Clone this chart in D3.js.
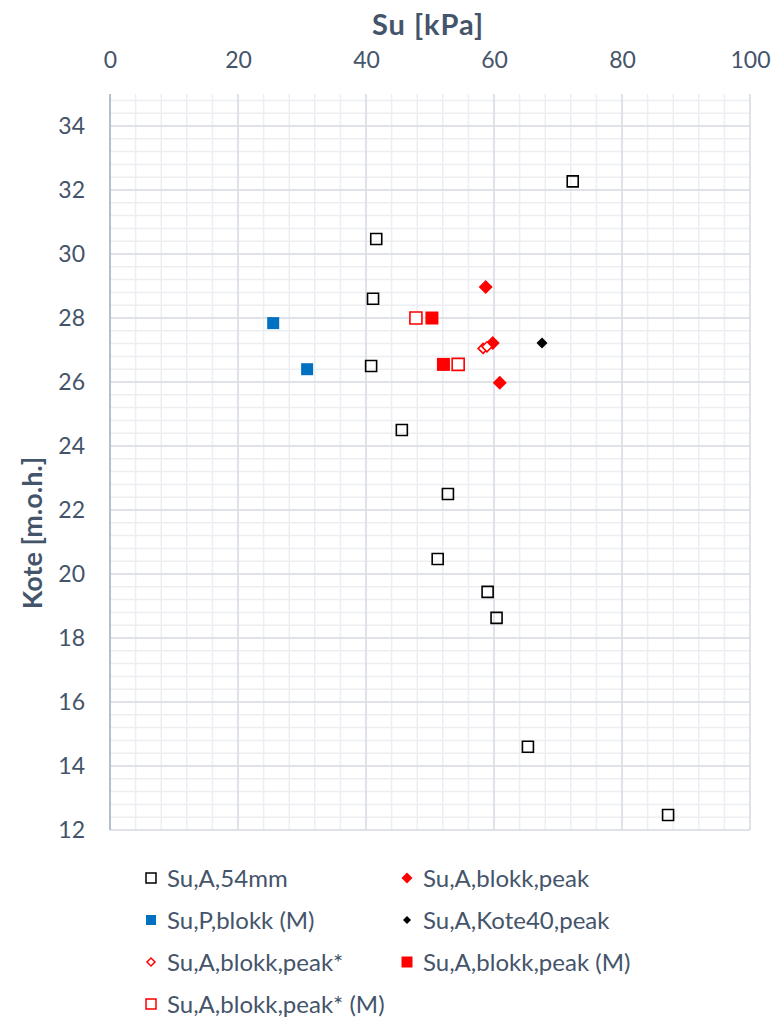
<!DOCTYPE html>
<html>
<head>
<meta charset="UTF-8">
<script src="https://cdn.jsdelivr.net/npm/d3@7"></script>
<style>
  * { margin: 0; padding: 0; }
  body { background: #fff; }
  text { font-family: Lato, "Open Sans", sans-serif; }
</style>
</head>
<body>
<div id="chart"></div>
<script>
// Su,A,54mm
var a54_su   = [72.3, 41.6, 41.1, 40.8, 45.6, 52.8, 51.2, 59.0, 60.4, 65.3, 87.2];
var a54_kote = [32.27, 30.47, 28.6, 26.5, 24.5, 22.5, 20.47, 19.44, 18.63, 14.6, 12.47];
// Su,P,blokk (M)
var pBlokk_su   = [25.5, 30.8];
var pBlokk_kote = [27.84, 26.4];
// Su,A,blokk,peak
var peak_su   = [58.7, 59.8, 60.9];
var peak_kote = [28.97, 27.22, 25.98];
// Su,A,Kote40,peak
var k40_su   = [67.5];
var k40_kote = [27.22];
// Su,A,blokk,peak*
var peakS_su   = [58.3, 58.9];
var peakS_kote = [27.05, 27.1];
// Su,A,blokk,peak (M)
var peakM_su   = [50.3, 52.1];
var peakM_kote = [28.0, 26.55];
// Su,A,blokk,peak* (M)
var peakSM_su   = [47.8, 54.4];
var peakSM_kote = [28.0, 26.55];

var xTicks = [0, 20, 40, 60, 80, 100];
var yTicks = [12, 14, 16, 18, 20, 22, 24, 26, 28, 30, 32, 34];

var series = [
  {name: "Su,A,54mm", su: a54_su, kote: a54_kote, shape: "square", fill: "none", stroke: "#000", size: 11},
  {name: "Su,A,blokk,peak", su: peak_su, kote: peak_kote, shape: "diamond", fill: "#ff0000", stroke: "none", size: 14},
  {name: "Su,P,blokk (M)", su: pBlokk_su, kote: pBlokk_kote, shape: "square", fill: "#0070c0", stroke: "none", size: 12},
  {name: "Su,A,Kote40,peak", su: k40_su, kote: k40_kote, shape: "diamond", fill: "#000", stroke: "none", size: 11},
  {name: "Su,A,blokk,peak*", su: peakS_su, kote: peakS_kote, shape: "diamond", fill: "#fff", stroke: "#ff0000", size: 10},
  {name: "Su,A,blokk,peak (M)", su: peakM_su, kote: peakM_kote, shape: "square", fill: "#ff0000", stroke: "none", size: 13},
  {name: "Su,A,blokk,peak* (M)", su: peakSM_su, kote: peakSM_kote, shape: "square", fill: "#fff", stroke: "#ff0000", size: 12}
];

var W = 774, H = 1021;
var margin = {top: 94, left: 110, right: 24, bottom: 191};
var pw = W - margin.left - margin.right, ph = H - margin.top - margin.bottom;

var svg = d3.select("#chart").append("svg").attr("width", W).attr("height", H);
var g = svg.append("g").attr("transform", "translate(" + margin.left + "," + margin.top + ")");

var x = d3.scaleLinear().domain([0, 100]).range([0, pw]);
var y = d3.scaleLinear().domain([12, 35]).range([ph, 0]);

// grid minor
g.append("g").selectAll("line").data(d3.range(0, 100.01, 4)).enter().append("line")
  .attr("x1", function(d){ return x(d); }).attr("x2", function(d){ return x(d); })
  .attr("y1", 0).attr("y2", ph)
  .attr("stroke", "#eceef2").attr("stroke-width", 1.5);
g.append("g").selectAll("line").data(d3.range(12, 35.01, 0.4)).enter().append("line")
  .attr("x1", 0).attr("x2", pw)
  .attr("y1", function(d){ return y(d); }).attr("y2", function(d){ return y(d); })
  .attr("stroke", "#eceef2").attr("stroke-width", 1.5);
// grid major
g.append("g").selectAll("line").data(xTicks).enter().append("line")
  .attr("x1", function(d){ return x(d); }).attr("x2", function(d){ return x(d); })
  .attr("y1", 0).attr("y2", ph)
  .attr("stroke", "#d9dde5").attr("stroke-width", 1.5);
g.append("g").selectAll("line").data(yTicks).enter().append("line")
  .attr("x1", 0).attr("x2", pw)
  .attr("y1", function(d){ return y(d); }).attr("y2", function(d){ return y(d); })
  .attr("stroke", "#d9dde5").attr("stroke-width", 1.5);
// left axis line
g.append("line").attr("x1", 0).attr("x2", 0).attr("y1", 0).attr("y2", ph)
  .attr("stroke", "#b4bfd0").attr("stroke-width", 2);

// axes
var xAxis = g.append("g").call(d3.axisTop(x).tickValues(xTicks).tickSize(0).tickPadding(0));
xAxis.select(".domain").remove();
xAxis.selectAll("text").attr("y", -26).attr("font-size", 23).attr("fill", "#44546a")
  .style("font-family", "Lato, sans-serif");

var yAxis = g.append("g").call(d3.axisLeft(y).tickValues(yTicks).tickSize(0).tickPadding(25));
yAxis.select(".domain").remove();
yAxis.selectAll("text").attr("font-size", 23).attr("fill", "#44546a")
  .style("font-family", "Lato, sans-serif");

svg.append("text").attr("x", 428).attr("y", 35).attr("text-anchor", "middle")
  .attr("font-size", 29).attr("font-weight", "bold").attr("letter-spacing", 1)
  .attr("fill", "#44546a").text("Su [kPa]");
svg.append("text").attr("transform", "translate(42,533) rotate(-90)")
  .attr("text-anchor", "middle")
  .attr("font-size", 27).attr("font-weight", "bold").attr("fill", "#44546a").text("Kote [m.o.h.]");

function shapePath(shape, s) {
  var h = s / 2;
  if (shape === "square") return "M" + (-h) + "," + (-h) + "H" + h + "V" + h + "H" + (-h) + "Z";
  return "M0," + (-h) + "L" + h + ",0L0," + h + "L" + (-h) + ",0Z";
}

// points
series.forEach(function(s) {
  var pts = d3.zip(s.su, s.kote);
  g.append("g").selectAll("path").data(pts).enter().append("path")
    .attr("transform", function(d){ return "translate(" + x(d[0]) + "," + y(d[1]) + ")"; })
    .attr("d", shapePath(s.shape, s.size))
    .attr("fill", s.fill)
    .attr("stroke", s.stroke)
    .attr("stroke-width", s.stroke === "none" ? 0 : 1.6);
});

// legend
var legend = svg.append("g");
var legSizes = [10, 11, 10, 8, 8, 11, 10];
series.forEach(function(s, i) {
  var col = i % 2, row = Math.floor(i / 2);
  var lx = col === 0 ? 151 : 407, ly = 878 + row * 42;
  legend.append("path")
    .attr("transform", "translate(" + lx + "," + ly + ")")
    .attr("d", shapePath(s.shape, legSizes[i]))
    .attr("fill", s.fill).attr("stroke", s.stroke)
    .attr("stroke-width", s.stroke === "none" ? 0 : 1.5);
  legend.append("text").attr("x", lx + 16).attr("y", ly).attr("dy", "0.36em")
    .attr("font-size", 24).attr("fill", "#44546a").text(s.name);
});
</script>
</body>
</html>
